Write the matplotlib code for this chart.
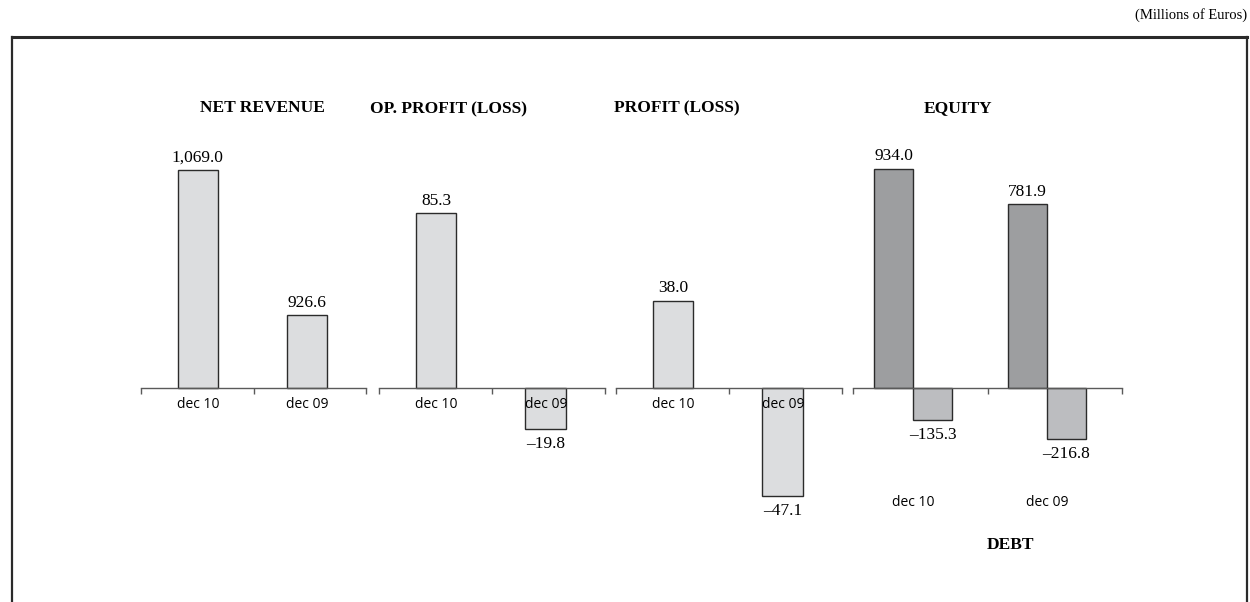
import matplotlib.pyplot as plt
import numpy as np
from matplotlib.lines import Line2D

periods = ["dec 10", "dec 09"]
net_revenue = [1069.0, 926.6]
op_profit = [85.3, -19.8]
profit = [38.0, -47.1]
equity = [934.0, 781.9]
debt = [-135.3, -216.8]

W, H = 1250, 602
light = "#dcdddf"
dark = "#9d9ea0"
mid = "#bcbdc0"
edge = "#2b2b2b"
serif = "Liberation Serif"
sans = "Open Sans"

fig = plt.figure(figsize=(W / 100, H / 100), dpi=100)

# every panel spans 100..560 px from the top, the zero line sits at 388 px
TOP, BOT, ZERO = 100, 560, 388


def px_axes(x0, x1):
    return fig.add_axes([x0 / W, 1 - BOT / H, (x1 - x0) / W, (BOT - TOP) / H])


def fmt(v):
    s = f"{abs(v):,.1f}"
    return s if v >= 0 else "\u2013" + s


def setup(ax, scale, base, xlim, labels=True):
    ax.set_ylim(base - (BOT - ZERO) / scale, base + (ZERO - TOP) / scale)
    ax.set_xlim(*xlim)
    for s in ["left", "right", "top"]:
        ax.spines[s].set_visible(False)
    ax.spines["bottom"].set_position(("data", base))
    ax.spines["bottom"].set_color("#5a5a5a")
    ax.spines["bottom"].set_linewidth(1.0)
    ax.set_yticks([])
    ax.set_xticks([xlim[0], (xlim[0] + xlim[1]) / 2, xlim[1]], ["", "", ""])
    ax.tick_params(axis="x", which="major", direction="out", length=4,
                   width=1, color="#5a5a5a")
    ax.set_xticks(np.arange(len(periods)), periods if labels else ["", ""], minor=True)
    ax.tick_params(axis="x", which="minor", length=0, pad=6.5, labelsize=10)
    for t in ax.get_xticklabels(minor=True):
        t.set_fontfamily(sans)
    ax.patch.set_alpha(0)


def value_labels(ax, xs, vals, base=0):
    for x, v in zip(xs, vals):
        if v >= base:
            ax.annotate(fmt(v), (x, v), xytext=(0, 6), textcoords="offset points",
                        ha="center", va="baseline", fontsize=12.5, family=serif)
        else:
            ax.annotate(fmt(v), (x, v), xytext=(0, -5), textcoords="offset points",
                        ha="center", va="top", fontsize=12.5, family=serif)


x = np.arange(len(periods))
xlim3 = (-0.52, 1.54)
bw = 0.37

# net revenue: axis starts at 855
ax1 = px_axes(141, 366)
base_nr = 855
setup(ax1, 1.02, base_nr, xlim3)
ax1.bar(x, np.array(net_revenue) - base_nr, bottom=base_nr, width=bw,
        color=light, edgecolor=edge, linewidth=1)
value_labels(ax1, x, net_revenue, base_nr)

ax2 = px_axes(379, 605)
setup(ax2, 2.05, 0, xlim3)
ax2.bar(x, op_profit, width=bw, color=light, edgecolor=edge, linewidth=1)
value_labels(ax2, x, op_profit)

ax3 = px_axes(616, 842)
setup(ax3, 2.3, 0, xlim3)
ax3.bar(x, profit, width=bw, color=light, edgecolor=edge, linewidth=1)
value_labels(ax3, x, profit)

ax4 = px_axes(853, 1122)
setup(ax4, 0.235, 0, (-0.448, 1.56), labels=False)
bw4 = 0.29
ax4.bar(x - bw4 / 2, equity, width=bw4, color=dark, edgecolor=edge, linewidth=1)
ax4.bar(x + bw4 / 2, debt, width=bw4, color=mid, edgecolor=edge, linewidth=1)
value_labels(ax4, x - bw4 / 2, equity)
value_labels(ax4, x + bw4 / 2, debt)
for xi, p in zip(x, periods):
    ax4.text(xi, (BOT - 503) / (BOT - TOP), p, transform=ax4.get_xaxis_transform(),
             ha="center", va="center", fontsize=10, family=sans)

# titles
titles = [("NET REVENUE", 262, 108), ("OP. PROFIT (LOSS)", 448, 109),
          ("PROFIT (LOSS)", 677, 108), ("EQUITY", 958, 108), ("DEBT", 1010, 545)]
for txt, tx, ty in titles:
    fig.text(tx / W, 1 - ty / H, txt, ha="center", va="center",
             fontsize=12.5, fontweight="bold", family=serif)

fig.text(1247 / W, 1 - 15 / H, "(Millions of Euros)", ha="right", va="center",
         fontsize=10.5, family=serif)

# frame, open at the bottom
fc = "#2a2a2a"
fig.add_artist(Line2D([12 / W, 1247 / W], [1 - 37 / H, 1 - 37 / H], color=fc, lw=2.2))
fig.add_artist(Line2D([12 / W, 12 / W], [0, 1 - 37 / H], color=fc, lw=1.6))
fig.add_artist(Line2D([1247 / W, 1247 / W], [0, 1 - 37 / H], color=fc, lw=1.6))

fig.savefig("out.png", dpi=100)
